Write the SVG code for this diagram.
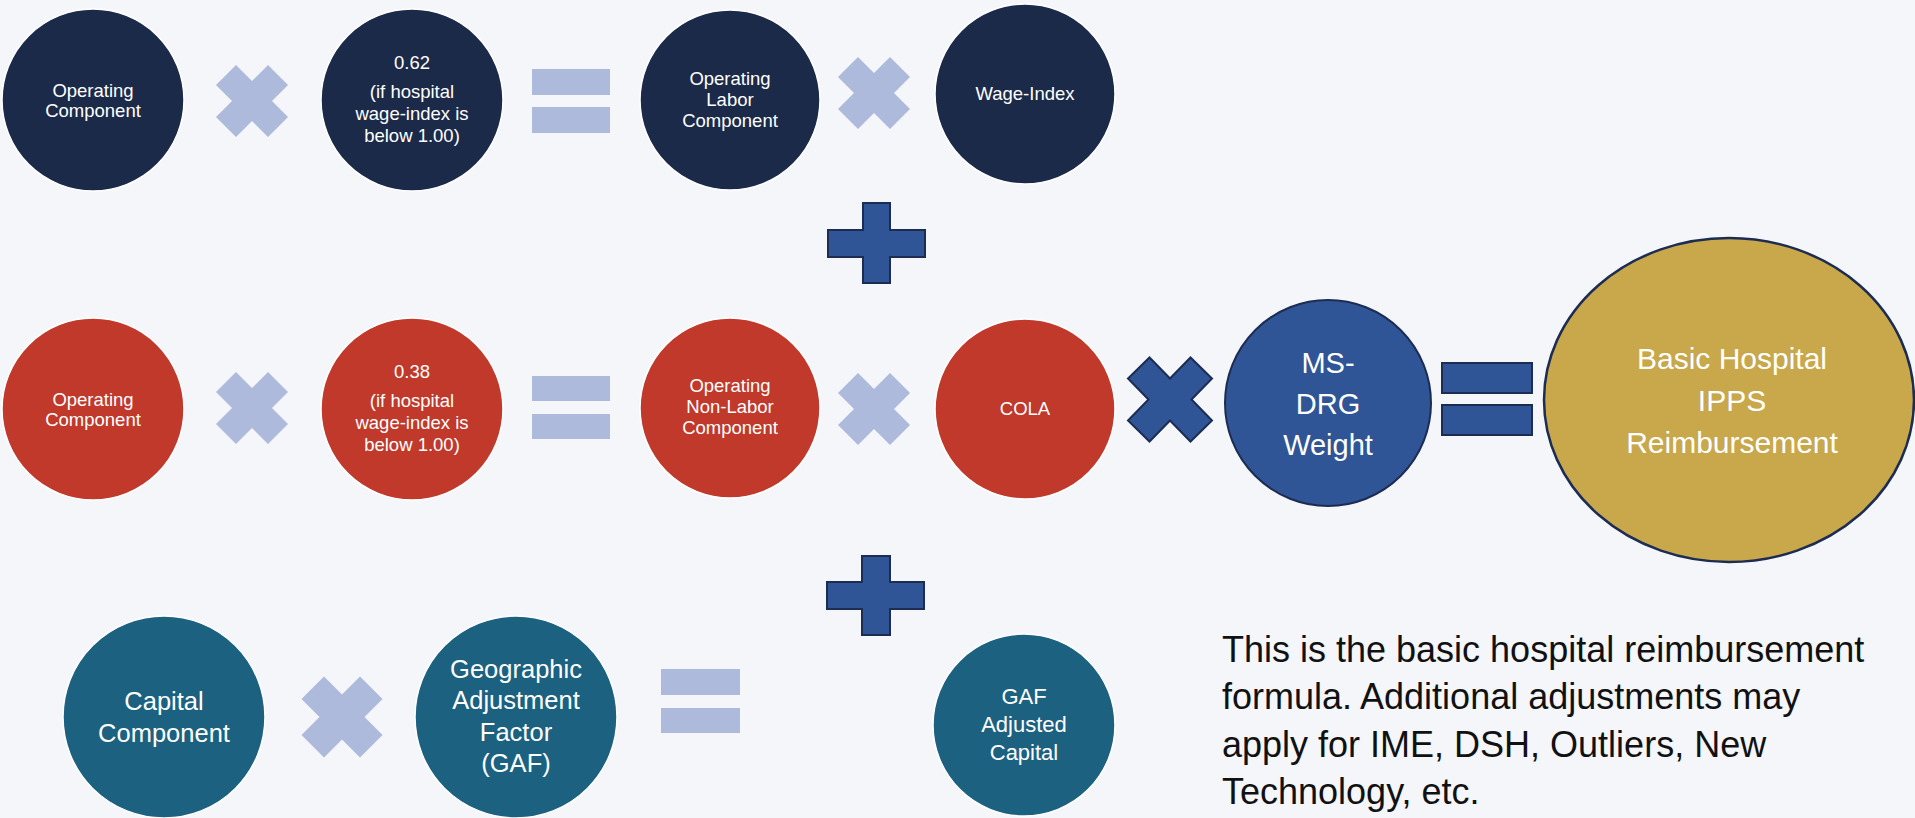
<svg xmlns="http://www.w3.org/2000/svg" xmlns:xlink="http://www.w3.org/1999/xlink" width="1915" height="818" viewBox="0 0 1915 818">
<defs>
<style>
.bg{fill:#f4f6fa}
.navy{fill:#1c2a49;stroke:#ffffff;stroke-width:1.5}
.red{fill:#c0392b;stroke:#ffffff;stroke-width:1.5}
.teal{fill:#1c6180;stroke:#ffffff;stroke-width:1.5}
.light{fill:#adbadc}
.dark{fill:#2f5597;stroke:#1c2c52;stroke-width:2}
.gold{fill:#c8a84b;stroke:#1c2c52;stroke-width:2.5}
text{font-family:"Liberation Sans",Arial,sans-serif;fill:#ffffff;text-anchor:middle}
.s{font-size:18.5px}
.m{font-size:25.5px}
.g{font-size:22px}
.l{font-size:29px}
.xl{font-size:30px}
.note{font-size:36px;fill:#111111;text-anchor:start}
</style>
<path id="xmark" d="M0,-20 L16,-36 L36,-16 L20,0 L36,16 L16,36 L0,20 L-16,36 L-36,16 L-20,0 L-36,-16 L-16,-36 Z"/>
</defs>
<rect class="bg" x="0" y="0" width="1915" height="818"/>

<g id="operators">
<use xlink:href="#xmark" class="light" transform="translate(252,101)"/>
<rect class="light" x="532" y="69" width="78" height="26"/>
<rect class="light" x="532" y="107" width="78" height="26"/>
<use xlink:href="#xmark" class="light" transform="translate(874,93)"/>
<path class="dark" d="M863,203 H890 V230 H925 V257 H890 V283 H863 V257 H828 V230 H863 Z"/>
<use xlink:href="#xmark" class="light" transform="translate(252,408)"/>
<rect class="light" x="532" y="376" width="78" height="25"/>
<rect class="light" x="532" y="414" width="78" height="25"/>
<use xlink:href="#xmark" class="light" transform="translate(874,409)"/>
<path class="dark" d="M1170,378.5 L1190.5,357.5 L1212,378.5 L1191.5,399.5 L1212,420.5 L1190.5,441.5 L1170,420.5 L1149.5,441.5 L1128,420.5 L1148.5,399.5 L1128,378.5 L1149.5,357.5 Z"/>
<rect class="dark" x="1442" y="363" width="90" height="30"/>
<rect class="dark" x="1442" y="405" width="90" height="30"/>
<path class="dark" d="M862,556 H890 V582 H924 V609 H890 V635 H862 V609 H827 V582 H862 Z"/>
<use xlink:href="#xmark" class="light" transform="translate(342,717) scale(1.125)"/>
<rect class="light" x="661" y="669" width="79" height="26"/>
<rect class="light" x="661" y="708" width="79" height="25"/>
</g>

<g id="op-component-1">
<circle class="navy" cx="93" cy="100" r="91"/>
<text class="s" x="93" y="97">Operating</text>
<text class="s" x="93" y="117">Component</text>
</g>
<g id="factor-062">
<circle class="navy" cx="412" cy="100" r="91"/>
<text class="s" x="412" y="69">0.62</text>
<text class="s" x="412" y="98">(if hospital</text>
<text class="s" x="412" y="120">wage-index is</text>
<text class="s" x="412" y="142">below 1.00)</text>
</g>
<g id="op-labor">
<circle class="navy" cx="730" cy="100" r="90"/>
<text class="s" x="730" y="85">Operating</text>
<text class="s" x="730" y="106">Labor</text>
<text class="s" x="730" y="127">Component</text>
</g>
<g id="wage-index">
<circle class="navy" cx="1025" cy="94" r="90"/>
<text class="s" x="1025" y="100">Wage-Index</text>
</g>

<g id="op-component-2">
<circle class="red" cx="93" cy="409" r="91"/>
<text class="s" x="93" y="406">Operating</text>
<text class="s" x="93" y="426">Component</text>
</g>
<g id="factor-038">
<circle class="red" cx="412" cy="409" r="91"/>
<text class="s" x="412" y="378">0.38</text>
<text class="s" x="412" y="407">(if hospital</text>
<text class="s" x="412" y="429">wage-index is</text>
<text class="s" x="412" y="451">below 1.00)</text>
</g>
<g id="op-nonlabor">
<circle class="red" cx="730" cy="408" r="90"/>
<text class="s" x="730" y="392">Operating</text>
<text class="s" x="730" y="413">Non-Labor</text>
<text class="s" x="730" y="434">Component</text>
</g>
<g id="cola">
<circle class="red" cx="1025" cy="409" r="90"/>
<text class="s" x="1025" y="415">COLA</text>
</g>

<g id="ms-drg">
<circle class="dark" cx="1328" cy="403" r="103"/>
<text class="l" x="1328" y="373">MS-</text>
<text class="l" x="1328" y="414">DRG</text>
<text class="l" x="1328" y="455">Weight</text>
</g>
<g id="reimbursement">
<ellipse class="gold" cx="1729" cy="400" rx="185" ry="162"/>
<text class="xl" x="1732" y="369">Basic Hospital</text>
<text class="xl" x="1732" y="411">IPPS</text>
<text class="xl" x="1732" y="453">Reimbursement</text>
</g>

<g id="capital">
<circle class="teal" cx="164" cy="717" r="101"/>
<text class="m" x="164" y="710">Capital</text>
<text class="m" x="164" y="742">Component</text>
</g>
<g id="gaf">
<circle class="teal" cx="516" cy="717" r="101"/>
<text class="m" x="516" y="678">Geographic</text>
<text class="m" x="516" y="709">Adjustment</text>
<text class="m" x="516" y="741">Factor</text>
<text class="m" x="516" y="772">(GAF)</text>
</g>
<g id="gaf-capital">
<circle class="teal" cx="1024" cy="725" r="91"/>
<text class="g" x="1024" y="704">GAF</text>
<text class="g" x="1024" y="732">Adjusted</text>
<text class="g" x="1024" y="760">Capital</text>
</g>

<g id="note">
<text class="note" x="1222" y="662">This is the basic hospital reimbursement</text>
<text class="note" x="1222" y="709">formula. Additional adjustments may</text>
<text class="note" x="1222" y="757">apply for IME, DSH, Outliers, New</text>
<text class="note" x="1222" y="804">Technology, etc.</text>
</g>
</svg>
